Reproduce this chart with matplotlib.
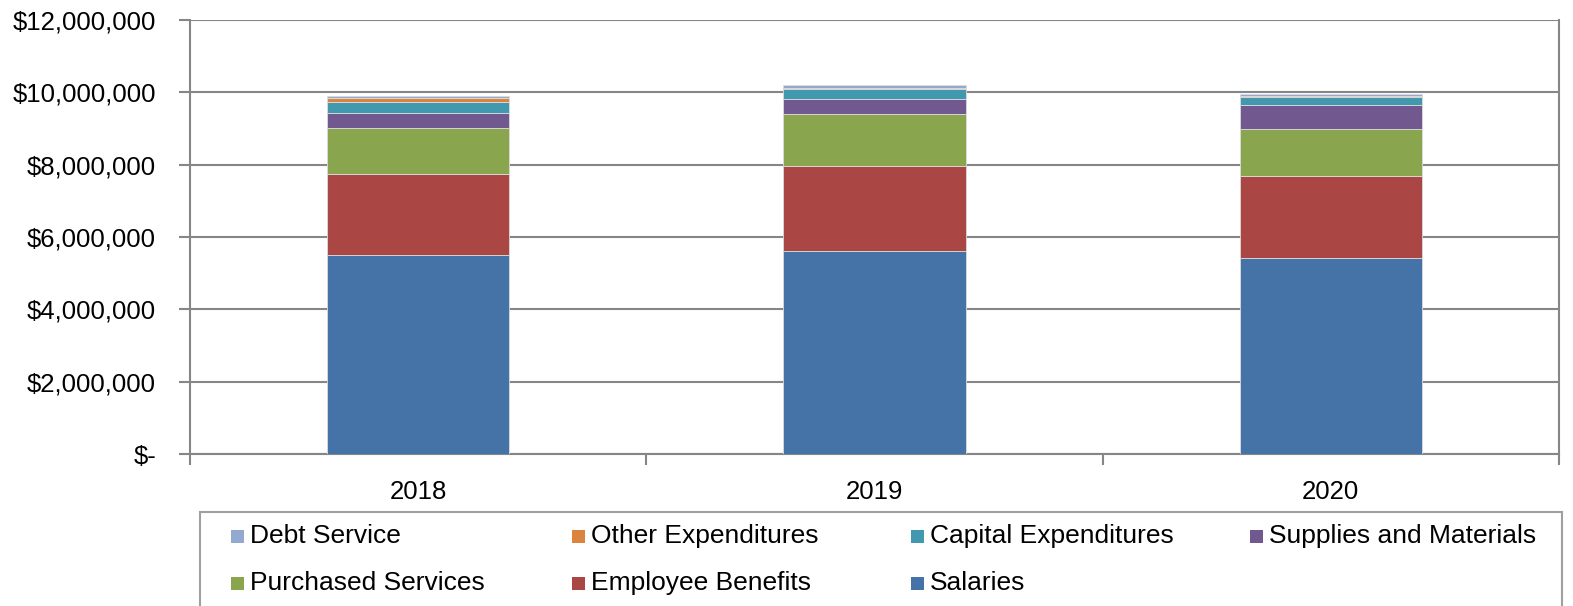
import matplotlib
matplotlib.use("Agg")
import matplotlib.pyplot as plt
from matplotlib.patches import Rectangle
from matplotlib.ticker import FuncFormatter, FixedLocator
import numpy as np

plt.rcParams['font.family'] = ['Liberation Sans', 'DejaVu Sans']

years = ["2018", "2019", "2020"]
salaries = [5.49e6, 5.60e6, 5.43e6]
employee_benefits = [2.24e6, 2.35e6, 2.25e6]
purchased_services = [1.28e6, 1.44e6, 1.32e6]
supplies_materials = [0.43e6, 0.43e6, 0.65e6]
capital_expenditures = [0.28e6, 0.27e6, 0.23e6]
other_expenditures = [0.11e6, 0.04e6, 0.02e6]
debt_service = [0.06e6, 0.08e6, 0.05e6]

series = [
    ("Salaries", salaries, "#4572A7"),
    ("Employee Benefits", employee_benefits, "#AA4643"),
    ("Purchased Services", purchased_services, "#89A54E"),
    ("Supplies and Materials", supplies_materials, "#71588F"),
    ("Capital Expenditures", capital_expenditures, "#4198AF"),
    ("Other Expenditures", other_expenditures, "#DB843D"),
    ("Debt Service", debt_service, "#93A9CF"),
]

W, H = 1573, 606
fig = plt.figure(figsize=(W / 100, H / 100), dpi=100)
L, R, T, B = 190, 1559, 20, 454
ax = fig.add_axes([L / W, 1 - B / H, (R - L) / W, (B - T) / H])

x = np.arange(len(years))
bottom = np.zeros(len(years))
for name, vals, col in series:
    ax.bar(x, vals, 0.40, bottom=bottom, color=col, edgecolor="#dcdcdc",
           linewidth=0.6, zorder=3)
    bottom += np.array(vals)

ax.set_xlim(-0.5, len(years) - 0.5)
ax.set_ylim(0, 12e6)
ax.set_yticks(np.arange(0, 12e6 + 1, 2e6))
ax.yaxis.set_major_formatter(FuncFormatter(lambda v, p: "$-" if v == 0 else f"${v:,.0f}"))
ax.grid(axis="y", color="#868686", linewidth=1.5, zorder=0)
ax.set_xticks(x)
ax.set_xticklabels(years)
ax.xaxis.set_minor_locator(FixedLocator(np.arange(-0.5, len(years), 1.0)))
ax.tick_params(axis="x", which="major", length=0, pad=19, labelsize=18.5)
ax.tick_params(axis="x", which="minor", length=8, width=1.5, color="#868686", direction="out")
ax.tick_params(axis="y", length=8, width=1.5, color="#868686", pad=16.5, labelsize=18.5)
for s in ax.spines.values():
    s.set_color("#868686")
    s.set_linewidth(1.5)
ax.spines["top"].set_visible(False)

# legend (row-major, 4 columns)
legend_order = ["Debt Service", "Other Expenditures", "Capital Expenditures",
                "Supplies and Materials", "Purchased Services", "Employee Benefits", "Salaries"]
colors = {n: c for n, _, c in series}
fig.patches.append(Rectangle((200 / W, 1 - 625 / H), (1562 - 200) / W, (625 - 512) / H,
                             transform=fig.transFigure, facecolor="white",
                             edgecolor="#a0a0a0", linewidth=1.5, figure=fig))
col_x = [231, 572, 911, 1250]
row_base = [543, 590]
for i, name in enumerate(legend_order):
    r, c = divmod(i, 4)
    mx, by = col_x[c], row_base[r]
    fig.patches.append(Rectangle((mx / W, 1 - by / H), 13 / W, 13 / H,
                                 transform=fig.transFigure, facecolor=colors[name],
                                 edgecolor="none", figure=fig))
    fig.text((mx + 19) / W, 1 - by / H, name, fontsize=19, va="baseline", ha="left")

fig.savefig("out.png", dpi=100)
